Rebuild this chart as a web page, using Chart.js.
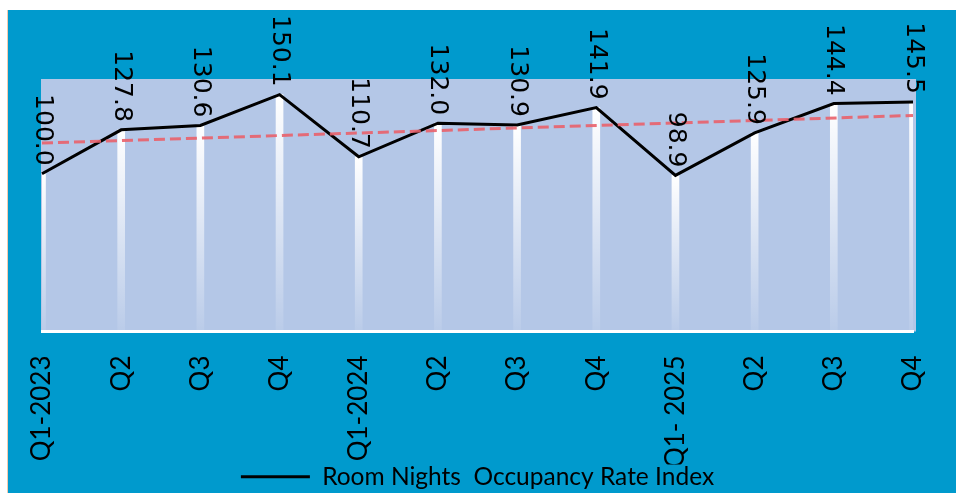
<!DOCTYPE html>
<html>
<head>
<meta charset="utf-8">
<script src="https://cdn.jsdelivr.net/npm/chart.js@4"></script>
<style>
  html, body { margin: 0; padding: 0; background: #fff; overflow: hidden; }
  #wrap { position: absolute; left: 7px; top: 10px; width: 949px; height: 483px; background: #009ACD; border-left: 1px solid #F2CBAE; box-sizing: border-box; }
  canvas { display: block; }
</style>
</head>
<body>
<div id="wrap"><canvas id="occ_chart" width="948" height="483"></canvas></div>
<script>
// quarters and index values
var quarters = ['Q1-2023', 'Q2', 'Q3', 'Q4', 'Q1-2024', 'Q2', 'Q3', 'Q4', 'Q1- 2025', 'Q2', 'Q3', 'Q4'];
var occupancy_index = [100.0, 127.8, 130.6, 150.1, 110.7, 132.0, 130.9, 141.9, 98.9, 125.9, 144.4, 145.5];
// trendline ends as seen in the picture
var trend_ends = [119.4, null, null, null, null, null, null, null, null, null, null, 136.9];
var series_name = 'Room Nights  Occupancy Rate Index';

// lavender plot area
const plotBg = {
  id: 'plotBg',
  beforeDraw(chart) {
    const a = chart.chartArea, c = chart.ctx;
    c.save();
    c.fillStyle = '#B4C7E7';
    c.fillRect(a.left - 1, a.top, a.right - a.left + 4, a.bottom - a.top);
    c.restore();
  }
};

// value labels, turned to read downwards
const valueLabels = {
  id: 'valueLabels',
  afterDatasetsDraw(chart) {
    const meta = chart.getDatasetMeta(1), c = chart.ctx;
    c.save();
    c.font = '25px "DejaVu Sans"';
    c.fillStyle = '#000';
    c.textAlign = 'right';
    c.textBaseline = 'middle';
    meta.data.forEach(function(pt, i){
      c.save();
      c.translate(pt.x, pt.y - 8);
      c.rotate(Math.PI / 2);
      c.fillText(occupancy_index[i].toFixed(1), 0, 0);
      c.restore();
    });
    c.restore();
  }
};

function barFade(context) {
  const chart = context.chart, area = chart.chartArea;
  if (!area || context.type !== 'data') return '#ffffff';
  const top = chart.scales.y.getPixelForValue(context.raw);
  const g = chart.ctx.createLinearGradient(0, top, 0, area.bottom);
  g.addColorStop(0, 'rgba(255,255,255,1)');
  g.addColorStop(1, 'rgba(255,255,255,0.08)');
  return g;
}

const ctx = document.getElementById('occ_chart');
new Chart(ctx, {
  data: {
    labels: quarters,
    datasets: [
      {
        type: 'bar',
        label: 'bars',
        data: occupancy_index,
        backgroundColor: barFade,
        barThickness: 7,
        order: 2
      },
      {
        type: 'line',
        label: series_name,
        data: occupancy_index,
        borderColor: '#000',
        backgroundColor: '#000',
        borderWidth: 3,
        pointRadius: 0,
        tension: 0,
        order: 1
      },
      {
        type: 'line',
        label: 'trend',
        data: trend_ends,
        spanGaps: true,
        borderColor: 'rgba(233,96,106,0.9)',
        borderWidth: 3,
        borderDash: [11, 5],
        pointRadius: 0,
        order: 0
      }
    ]
  },
  options: {
    responsive: false,
    animation: false,
    layout: { padding: { left: 34, right: 43, top: 69, bottom: -6 } },
    plugins: {
      tooltip: { enabled: false },
      legend: {
        position: 'bottom',
        labels: {
          filter: function(item){ return item.datasetIndex === 1; },
          usePointStyle: true,
          pointStyle: 'line',
          pointStyleWidth: 69,
          color: '#000',
          padding: 0,
          font: { family: 'Lato', size: 24.5 }
        }
      }
    },
    scales: {
      x: {
        offset: false,
        grid: { display: false, drawTicks: false },
        border: { display: true, color: '#ffffff', width: 3 },
        ticks: {
          autoSkip: false,
          minRotation: 90,
          maxRotation: 90,
          padding: 24,
          color: '#000',
          font: { family: 'Lato', size: 26 }
        },
        afterFit: function(scale){
          scale.height = 133;
          scale.paddingLeft = 0;
          scale.paddingRight = 0;
        }
      },
      y: {
        display: false,
        min: 0,
        max: 160
      }
    }
  },
  plugins: [plotBg, valueLabels]
});
</script>
</body>
</html>
